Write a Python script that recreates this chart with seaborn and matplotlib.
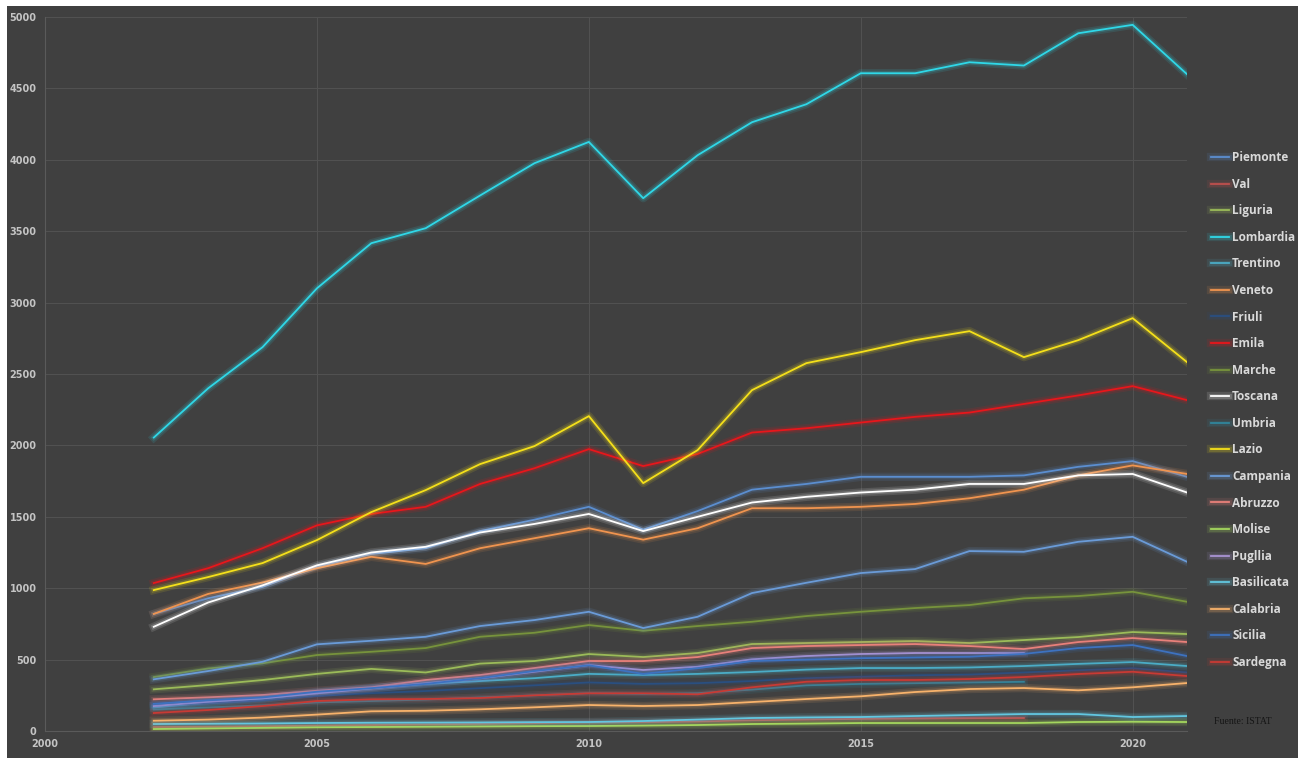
import numpy as np
import pandas as pd
import matplotlib
matplotlib.use('Agg')
import matplotlib.pyplot as plt
import matplotlib.patheffects as pe
from matplotlib.patches import Rectangle
import seaborn as sns

# anni e valori per regione
anni = list(range(2002, 2022))
nan = np.nan

regioni = ['Piemonte', 'Val', 'Liguria', 'Lombardia', 'Trentino', 'Veneto', 'Friuli',
           'Emila', 'Marche', 'Toscana', 'Umbria', 'Lazio', 'Campania', 'Abruzzo',
           'Molise', 'Pugllia', 'Basilicata', 'Calabria', 'Sicilia', 'Sardegna']

piemonte = [820, 930, 1010, 1150, 1240, 1280, 1400, 1480, 1570, 1410,
            1540, 1690, 1730, 1780, 1780, 1780, 1790, 1850, 1890, 1780]
val = [28, 30, 33, 38, 42, 46, 50, 55, 60, 62,
       66, 75, 80, 85, 88, 90, 91, nan, nan, nan]
liguria = [292, 322, 357, 400, 435, 410, 472, 490, 539, 518,
           546, 609, 616, 623, 630, 616, 637, 658, 693, 679]
lombardia = [2055, 2400, 2688, 3100, 3416, 3521, 3750, 3976, 4125, 3731,
             4032, 4263, 4389, 4606, 4606, 4683, 4660, 4886, 4945, 4599]
trentino = [165, 200, 225, 270, 300, 330, 350, 370, 400, 392,
            400, 413, 430, 441, 441, 445, 455, 470, 483, 455]
veneto = [820, 960, 1040, 1140, 1220, 1170, 1280, 1350, 1420, 1340,
          1420, 1560, 1560, 1570, 1590, 1630, 1690, 1790, 1860, 1800]
friuli = [180, 195, 215, 245, 265, 280, 300, 320, 340, 330,
          335, 350, 370, 380, 390, 395, 410, 425, 440, 410]
emilia = [1036, 1140, 1280, 1440, 1520, 1570, 1730, 1840, 1974, 1855,
          1940, 2090, 2120, 2160, 2200, 2230, 2290, 2350, 2415, 2317]
marche = [378, 438, 474, 532, 555, 581, 660, 688, 742, 702,
          735, 765, 805, 835, 861, 882, 929, 945, 975, 905]
toscana = [730, 900, 1020, 1160, 1250, 1290, 1390, 1450, 1520, 1400,
           1500, 1600, 1640, 1670, 1690, 1730, 1730, 1790, 1800, 1670]
umbria = [150, 165, 180, 200, 210, 220, 235, 250, 265, 260,
          265, 290, 320, 330, 335, 340, 345, nan, nan, nan]
lazio = [987, 1078, 1176, 1337, 1533, 1687, 1869, 1995, 2205, 1736,
         1967, 2387, 2576, 2653, 2737, 2800, 2618, 2737, 2891, 2583]
campania = [362, 420, 485, 607, 632, 660, 735, 777, 835, 721,
            800, 966, 1038, 1106, 1134, 1260, 1255, 1325, 1360, 1185]
abruzzo = [222, 236, 252, 282, 306, 357, 392, 441, 490, 490,
           518, 581, 595, 602, 609, 595, 574, 623, 651, 623]
molise = [14, 18, 22, 26, 28, 30, 32, 34, 35, 38,
          42, 49, 52, 56, 56, 56, 56, 63, 65, 63]
puglia = [175, 205, 229, 264, 299, 334, 369, 415, 462, 427,
          450, 502, 525, 539, 546, 546, 546, nan, nan, nan]
basilicata = [49, 51, 53, 56, 58, 59, 60, 62, 63, 70,
              80, 91, 95, 98, 105, 112, 119, 119, 98, 105]
calabria = [72, 80, 94, 115, 138, 142, 152, 166, 182, 175,
            182, 203, 224, 243, 273, 294, 301, 285, 306, 336]
sicilia = [190, 215, 235, 275, 300, 330, 370, 420, 460, 400,
           440, 490, 500, 510, 515, 520, 540, 581, 602, 525]
sardegna = [126, 147, 175, 210, 222, 224, 231, 250, 264, 264,
            257, 306, 345, 357, 357, 364, 378, 399, 415, 385]

serie = [piemonte, val, liguria, lombardia, trentino, veneto, friuli, emilia, marche,
         toscana, umbria, lazio, campania, abruzzo, molise, puglia, basilicata,
         calabria, sicilia, sardegna]

colori = ['#5b8ed0', '#c0504d', '#9bbb59', '#2fd8e8', '#4bacc6', '#f0944f', '#2a4f80',
          '#e8161b', '#77933c', '#ffffff', '#31859c', '#f5e01a', '#6a9bd8', '#e8807a',
          '#a4d65e', '#a993d3', '#62c7e0', '#f7b26b', '#3d72c0', '#c83a34']

filas = []
for nombre, valores in zip(regioni, serie):
    for a, v in zip(anni, valores):
        filas.append({'anno': a, 'valore': v, 'regione': nombre})
df = pd.DataFrame(filas).dropna()

BG = '#404040'
fig = plt.figure(figsize=(12.98, 7.58), dpi=100)
fig.patch.set_facecolor(BG)
# bordo bianco in alto e a sinistra
fig.patches.append(Rectangle((0, 0), 7 / 1298, 1, transform=fig.transFigure,
                             facecolor='white', edgecolor='none', zorder=5))
fig.patches.append(Rectangle((0, 1 - 6 / 758), 1, 6 / 758, transform=fig.transFigure,
                             facecolor='white', edgecolor='none', zorder=5))

ax = fig.add_axes([0.0347, 0.0356, 0.8798, 0.942])
ax.set_facecolor(BG)

sns.lineplot(data=df, x='anno', y='valore', hue='regione', hue_order=regioni,
             palette=colori, linewidth=1.3, errorbar=None, ax=ax, legend=True)

# effetto "glow"
for line in ax.lines:
    c = line.get_color()
    line.set_path_effects([pe.Stroke(linewidth=6, foreground=c, alpha=0.12),
                           pe.Stroke(linewidth=3.5, foreground=c, alpha=0.18),
                           pe.Normal()])

ax.set_xlim(2000, 2021)
ax.set_ylim(0, 5000)
ax.set_xticks([2000, 2005, 2010, 2015, 2020])
ax.set_yticks(range(0, 5001, 500))
ax.set_xlabel('')
ax.set_ylabel('')
ax.grid(True, color='#515151', linewidth=0.8)
ax.set_axisbelow(True)
ax.tick_params(length=0, colors='#c4c4c4', labelsize=7, pad=6)
for lab in ax.get_xticklabels() + ax.get_yticklabels():
    lab.set_fontweight('bold')
for s in ['top', 'right']:
    ax.spines[s].set_visible(False)
ax.spines['left'].set_color('#5a5a5a')
ax.spines['bottom'].set_color('#5a5a5a')

handles, labels = ax.get_legend_handles_labels()
ax.get_legend().remove()
leg = fig.legend(handles, labels, loc='center left', bbox_to_anchor=(1211 / 1298, 0.459),
                 frameon=False, labelspacing=1.15, handlelength=1.5,
                 handletextpad=0.3, borderpad=0, borderaxespad=0,
                 prop={'family': 'Open Sans', 'weight': 'bold', 'size': 8.5})
for t in leg.get_texts():
    t.set_color('#d9d9d9')

fig.text(1214 / 1298, 1 - 722 / 758, 'Fuente: ISTAT', family='Liberation Serif',
         fontsize=7, color='#151515', va='center', ha='left')

fig.savefig('out.png', dpi=100, facecolor=fig.get_facecolor())
